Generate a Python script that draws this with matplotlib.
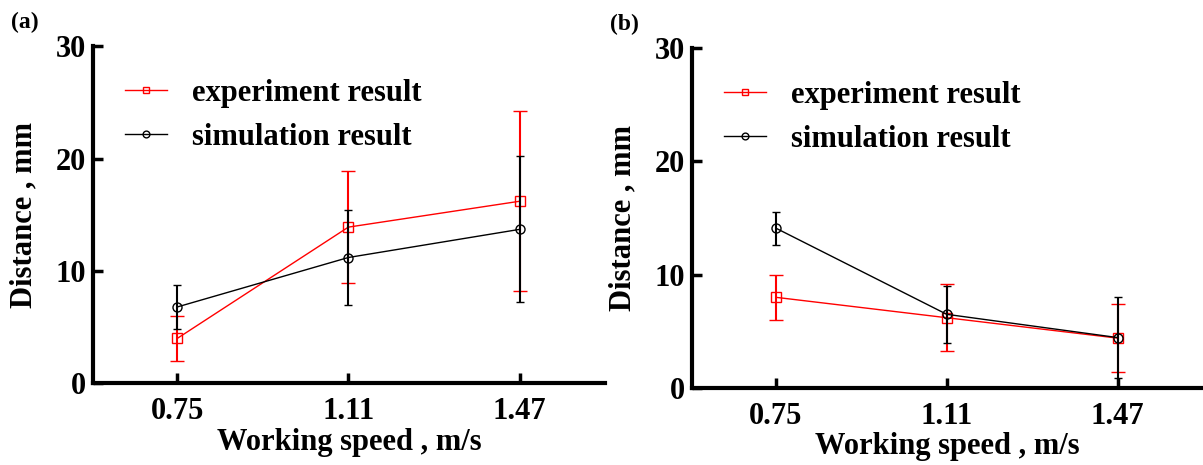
import numpy as np
import matplotlib.pyplot as plt

plt.rcParams['font.family'] = ['Liberation Serif', 'DejaVu Serif']
plt.rcParams['font.weight'] = 'bold'

## data
speed = [0.75, 1.11, 1.47]

exp_a = [4.0, 13.9, 16.2]
exp_a_err = [2.0, 5.0, 8.0]
sim_a = [6.8, 11.2, 13.7]
sim_a_err = [1.95, 4.25, 6.5]

exp_b = [8.0, 6.2, 4.4]
exp_b_err = [2.0, 2.95, 3.0]
sim_b = [14.1, 6.5, 4.45]
sim_b_err = [1.45, 2.5, 3.6]

panels = [
    ('(a)', exp_a, exp_a_err, sim_a, sim_a_err, [0.0773, 0.1753, 0.4257, 0.7257]),
    ('(b)', exp_b, exp_b_err, sim_b, sim_b_err, [0.5752, 0.1656, 0.4248, 0.7312]),
]

fig = plt.figure(figsize=(12.03, 4.65), dpi=100)

for tag, ey, ee, sy, se, pos in panels:
    ax = fig.add_axes(pos)
    ax.errorbar(speed, ey, yerr=ee, color='red', lw=1, elinewidth=1.5, capsize=5,
                capthick=1.5, marker='s', ms=6.5, mfc='none', mec='red', mew=1,
                label='experiment result', zorder=3)
    ax.errorbar(speed, sy, yerr=se, color='black', lw=1, elinewidth=1.5, capsize=3,
                capthick=1.5, marker='o', ms=6.5, mfc='none', mec='black', mew=1,
                label='simulation result', zorder=4)

    ax.set_xlim(0.573, 1.65)
    ax.set_ylim(0, 30)
    ax.set_xticks(speed)
    ax.set_xticklabels(['0.75', '1.11', '1.47'])
    ax.set_yticks([0, 10, 20, 30])
    ax.tick_params(direction='in', length=7, width=2.5, labelsize=22)
    ax.tick_params(axis='x', pad=10)
    ax.tick_params(axis='y', pad=5)

    for s in ['top', 'right']:
        ax.spines[s].set_visible(False)
    for s in ['left', 'bottom']:
        ax.spines[s].set_linewidth(3)

    ax.set_xlabel('Working speed , m/s', fontsize=22, fontweight='bold', labelpad=1)
    ax.set_ylabel('Distance , mm', fontsize=22, fontweight='bold', labelpad=12)

    handles, labels = ax.get_legend_handles_labels()
    handles = [h[0] for h in handles]
    ax.legend(handles, labels, loc='upper left', bbox_to_anchor=(0.008, 0.985),
              frameon=False, fontsize=22, handlelength=1.4, handletextpad=0.8,
              labelspacing=0.5, markerscale=0.75)

    ax.text(-0.16, 1.07, tag, transform=ax.transAxes, fontsize=17,
            fontweight='bold', va='center', ha='left')

fig.savefig('out.png', dpi=100)
